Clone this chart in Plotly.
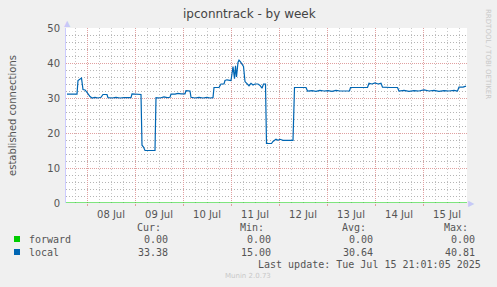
import plotly.graph_objects as go

# ---- data ----
local_times = [
    "2025-07-07 14:00", "2025-07-07 19:00", "2025-07-07 19:30", "2025-07-07 20:30", "2025-07-07 21:15",
    "2025-07-07 22:00", "2025-07-07 23:00", "2025-07-08 00:00", "2025-07-08 00:30", "2025-07-08 01:30",
    "2025-07-08 02:30", "2025-07-08 04:00", "2025-07-08 05:30", "2025-07-08 07:00", "2025-07-08 08:00",
    "2025-07-08 10:00", "2025-07-08 10:30", "2025-07-08 12:30", "2025-07-08 14:30", "2025-07-08 16:30",
    "2025-07-08 18:30", "2025-07-08 20:30", "2025-07-08 22:00", "2025-07-08 22:30", "2025-07-09 01:00",
    "2025-07-09 03:00", "2025-07-09 03:30", "2025-07-09 04:15", "2025-07-09 05:00", "2025-07-09 07:30",
    "2025-07-09 10:00", "2025-07-09 10:30", "2025-07-09 12:30", "2025-07-09 14:30", "2025-07-09 16:00",
    "2025-07-09 17:30", "2025-07-09 18:00", "2025-07-09 20:00", "2025-07-09 21:30", "2025-07-09 23:00",
    "2025-07-10 00:30", "2025-07-10 01:00", "2025-07-10 01:30", "2025-07-10 03:30", "2025-07-10 04:00",
    "2025-07-10 06:00", "2025-07-10 08:00", "2025-07-10 10:00", "2025-07-10 12:00", "2025-07-10 13:30",
    "2025-07-10 15:00", "2025-07-10 15:30", "2025-07-10 18:00", "2025-07-10 19:00", "2025-07-10 20:30",
    "2025-07-10 21:00", "2025-07-10 22:00", "2025-07-11 00:00", "2025-07-11 01:00", "2025-07-11 01:45",
    "2025-07-11 02:15", "2025-07-11 02:45", "2025-07-11 03:30", "2025-07-11 04:00", "2025-07-11 04:45",
    "2025-07-11 05:30", "2025-07-11 06:15", "2025-07-11 07:00", "2025-07-11 08:00", "2025-07-11 09:00",
    "2025-07-11 10:00", "2025-07-11 11:00", "2025-07-11 12:00", "2025-07-11 13:30", "2025-07-11 14:30",
    "2025-07-11 15:30", "2025-07-11 16:15", "2025-07-11 17:15", "2025-07-11 17:45", "2025-07-11 20:15",
    "2025-07-11 21:00", "2025-07-11 22:30", "2025-07-11 23:30", "2025-07-12 00:30", "2025-07-12 02:00",
    "2025-07-12 04:00", "2025-07-12 05:30", "2025-07-12 07:00", "2025-07-12 07:45", "2025-07-12 10:30",
    "2025-07-12 13:30", "2025-07-12 14:15", "2025-07-12 16:30", "2025-07-12 18:30", "2025-07-12 20:30",
    "2025-07-12 22:30", "2025-07-13 00:30", "2025-07-13 02:30", "2025-07-13 04:30", "2025-07-13 06:30",
    "2025-07-13 09:00", "2025-07-13 11:15", "2025-07-13 11:45", "2025-07-13 14:00", "2025-07-13 16:30",
    "2025-07-13 20:15", "2025-07-13 21:00", "2025-07-13 22:30", "2025-07-14 00:00", "2025-07-14 01:30",
    "2025-07-14 03:00", "2025-07-14 03:45", "2025-07-14 07:30", "2025-07-14 11:15", "2025-07-14 12:00",
    "2025-07-14 14:30", "2025-07-14 17:00", "2025-07-14 19:30", "2025-07-14 22:00", "2025-07-15 00:30",
    "2025-07-15 03:00", "2025-07-15 05:30", "2025-07-15 08:00", "2025-07-15 10:30", "2025-07-15 13:00",
    "2025-07-15 15:30", "2025-07-15 17:15", "2025-07-15 18:00", "2025-07-15 20:00", "2025-07-15 21:30",
]
local_values = [
    31.1, 31.1, 35.0, 35.3, 35.7,
    32.4, 32.3, 31.6, 31.1, 30.4,
    30.0, 30.2, 30.0, 30.2, 31.0,
    31.0, 30.1, 30.0, 30.2, 30.0,
    30.1, 30.0, 30.1, 31.2, 31.1,
    31.0, 16.5, 16.0, 15.0, 15.0,
    15.0, 30.1, 30.0, 30.3, 30.1,
    30.2, 31.1, 31.1, 31.3, 31.2,
    31.2, 31.2, 32.1, 32.0, 30.2,
    30.0, 30.2, 30.0, 30.2, 30.0,
    30.1, 33.0, 33.0, 34.0, 34.0,
    35.0, 35.2, 35.0, 39.0, 35.5,
    39.2, 36.0, 40.2, 40.8, 40.3,
    39.5, 39.0, 34.7, 34.0, 33.5,
    34.2, 33.7, 34.0, 34.0, 33.6,
    32.8, 34.0, 34.0, 17.0, 17.0,
    17.6, 18.2, 17.9, 18.2, 17.9,
    18.0, 17.9, 17.9, 33.0, 33.0,
    33.0, 32.0, 32.1, 31.9, 32.2,
    32.0, 32.1, 31.9, 32.2, 32.0,
    32.1, 32.0, 33.0, 33.0, 33.1,
    33.0, 34.2, 34.0, 34.3, 34.0,
    34.2, 33.1, 33.0, 33.0, 32.0,
    32.2, 31.9, 32.1, 32.0, 32.3,
    32.0, 32.2, 31.9, 32.1, 32.0,
    32.2, 32.0, 33.1, 33.1, 33.4,
]
forward_times = ["2025-07-07 13:30", "2025-07-15 22:00"]
forward_values = [0.0, 0.0]

series_names = ["forward", "local"]
series_colors = ["#00CC00", "#0066B3"]
cur_vals = ["0.00", "33.38"]
min_vals = ["0.00", "15.00"]
avg_vals = ["0.00", "30.64"]
max_vals = ["0.00", "40.81"]

x_range = ["2025-07-07 13:30", "2025-07-15 22:00"]
y_range = [0, 50]

# ---- layout constants (pixels) ----
W, H = 497, 287
L, R, T, B = 66, 30, 28, 84
PLOT_W = W - L - R
PLOT_H = H - T - B

fig = go.Figure()
fig.add_trace(go.Scatter(x=forward_times, y=forward_values, mode="lines",
                         line=dict(color=series_colors[0], width=1.2), hoverinfo="skip"))
fig.add_trace(go.Scatter(x=local_times, y=local_values, mode="lines",
                         line=dict(color=series_colors[1], width=1.2), hoverinfo="skip"))

MONO = "DejaVu Sans Mono"
SANS = "DejaVu Sans"
TXT = "#555555"
MAJOR = "#E0A0A0"

fig.update_layout(
    width=W, height=H,
    margin=dict(l=L, r=R, t=T, b=B, pad=0),
    paper_bgcolor="#F0F0F0",
    plot_bgcolor="#FFFFFF",
    showlegend=False,
    font=dict(family=SANS, size=10, color=TXT),
    xaxis=dict(
        type="date", range=x_range,
        dtick=86400000, tick0="2025-07-08 00:00",
        ticklabelmode="period", tickformat="%d %b",
        showgrid=True, gridcolor=MAJOR, griddash="1px,1px", gridwidth=1,
        ticks="outside", ticklen=2, tickcolor=MAJOR,
        minor=dict(dtick=21600000, tick0="2025-07-08 06:00", showgrid=True,
                   gridcolor="#C8C8C8", griddash="1px,2px", gridwidth=1),
        showline=False, zeroline=False,
        tickfont=dict(family=SANS, size=10, color=TXT),
        layer="below traces",
    ),
    yaxis=dict(
        range=y_range, dtick=10, tick0=0,
        showgrid=True, gridcolor=MAJOR, griddash="1px,1px", gridwidth=1,
        minor=dict(dtick=2, tick0=2, showgrid=True, gridcolor="#B4B4B4", griddash="1px,2px", gridwidth=1),
        showline=True, linecolor="#CCCCFF", linewidth=1, zeroline=False,
        ticks="", ticklabelstandoff=3,
        tickfont=dict(family=SANS, size=10, color=TXT),
        title=dict(text="established connections", font=dict(family=SANS, size=10, color=TXT), standoff=28),
    ),
)

anns = []
def px_ann(text, px, py, anchor="left", size=10, family=MONO, color=TXT, angle=0):
    anns.append(dict(text=text, xref="paper", yref="paper",
                     x=(px - L) / PLOT_W, y=(H - B - py) / PLOT_H,
                     xanchor=anchor, yanchor="middle", showarrow=False,
                     textangle=angle,
                     font=dict(family=family, size=size, color=color)))

# title
px_ann("ipconntrack - by week", 249, 14, anchor="center", size=12, family=SANS, color="#444444")
# rrdtool watermark
px_ann("RRDTOOL / TOBI OETIKER", 488, 54, anchor="center", size=7, family=SANS, color="#C8C8C8", angle=90)
# axis arrows
px_ann("▲", 67, 23, anchor="center", size=8, family=SANS, color="#C8C8F8")
px_ann("▶", 471, 203, anchor="center", size=8, family=SANS, color="#C8C8F8")

# legend header
for lab, xr in zip(["Cur:", "Min:", "Avg:", "Max:"], [163, 266, 368, 470]):
    px_ann(lab, xr, 227, anchor="right")
rows_y = [239, 252]
shapes = []
for i, name in enumerate(series_names):
    yy = rows_y[i]
    shapes.append(dict(type="rect", xref="paper", yref="paper",
                       x0=(14 - L) / PLOT_W, x1=(20 - L) / PLOT_W,
                       y0=(H - B - (yy + 3)) / PLOT_H, y1=(H - B - (yy - 3)) / PLOT_H,
                       fillcolor=series_colors[i], line=dict(width=0)))
    px_ann(name, 27, yy, anchor="left")
    for vals, xr in zip([cur_vals, min_vals, avg_vals, max_vals], [170, 273, 375, 477]):
        px_ann(vals[i], xr, yy, anchor="right")

px_ann("Last update: Tue Jul 15 21:01:05 2025", 483, 264, anchor="right")
px_ann("Munin 2.0.73", 248, 276, anchor="center", size=7, family=SANS, color="#C8C8C8")

fig.update_layout(annotations=anns, shapes=shapes)
fig.write_html("out.html")
